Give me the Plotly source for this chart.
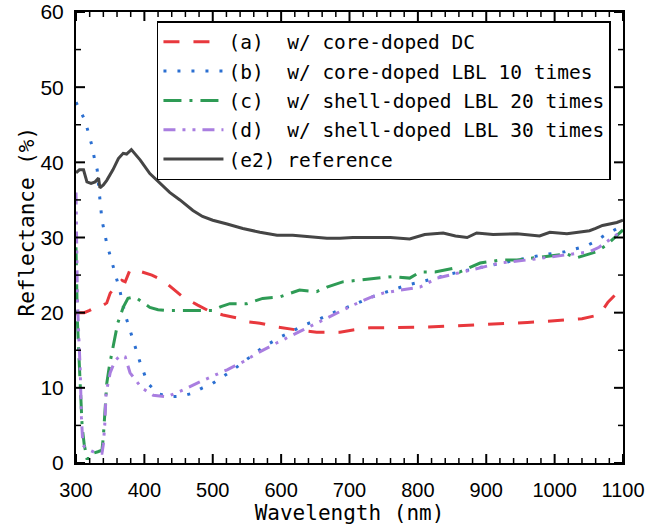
import plotly.graph_objects as go

# ---- data ----
x_a = [300, 305, 312, 320, 330, 340, 345, 350, 358, 367, 372, 379, 390, 400, 411, 427, 440, 456, 478, 495,
       515, 535, 550, 569, 594, 623, 652, 686, 705, 730, 759, 790, 815, 845, 872, 900, 930, 960, 983, 1010,
       1040, 1060, 1070, 1078, 1091, 1100]
y_a = [19.8, 20.0, 20.0, 20.3, 20.8, 21.0, 21.3, 22.6, 23.5, 24.3, 24.1, 25.7, 25.6, 25.3, 25.0, 24.3, 23.3, 22.1, 21.0, 20.2,
       19.7, 19.3, 18.8, 18.6, 18.1, 17.7, 17.4, 17.4, 17.7, 18.0, 18.0, 18.0, 18.1, 18.2, 18.3, 18.4, 18.5, 18.7, 18.8, 19.0,
       19.2, 19.6, 20.3, 21.4, 22.6, 23.2]

x_b = [300, 307, 313, 318, 323, 327, 331, 334, 338, 345, 354, 364, 372, 383, 394, 405, 420, 437, 455, 471,
       485, 500, 515, 530, 550, 575, 600, 617, 635, 652, 670, 686, 705, 730, 749, 768, 785, 805, 822, 850,
       880, 915, 950, 983, 1015, 1047, 1060, 1073, 1085, 1100]
y_b = [48.0, 46.8, 45.6, 44.0, 42.3, 40.5, 39.0, 36.0, 32.3, 29.2, 26.1, 23.0, 19.7, 16.4, 13.3, 10.6, 9.2, 8.8, 8.9, 9.3,
       10.0, 10.6, 11.5, 12.4, 13.8, 15.5, 16.8, 17.6, 18.4, 19.0, 19.8, 20.4, 21.0, 22.0, 22.6, 23.2, 23.7, 24.1, 24.5, 25.2,
       25.8, 26.5, 27.1, 27.7, 28.1, 28.9, 29.5, 30.3, 30.9, 31.6]

x_c = [300, 301, 302, 305, 307, 309, 312, 316, 320, 325, 332, 338, 340, 342, 345, 349, 353, 357, 361, 369,
       376, 386, 395, 408, 420, 433, 452, 477, 500, 512, 525, 550, 573, 598, 627, 652, 667, 690, 711, 740,
       763, 788, 803, 825, 851, 861, 891, 920, 945, 970, 993, 1018, 1032, 1061, 1076, 1090, 1100]
y_c = [28.7, 24.0, 19.0, 12.8, 8.4, 4.8, 2.5, 0.6, 0.6, 1.3, 1.5, 1.7, 3.5, 6.1, 10.6, 13.0, 15.0, 17.0, 18.6, 20.7,
       21.9, 22.1, 21.5, 20.7, 20.4, 20.3, 20.3, 20.3, 20.3, 20.8, 21.2, 21.2, 21.9, 22.1, 23.0, 22.8, 23.4, 24.1, 24.3, 24.6,
       24.8, 24.6, 25.4, 25.4, 25.9, 25.4, 26.6, 27.0, 27.0, 27.3, 27.5, 27.8, 27.3, 28.1, 29.0, 30.2, 31.0]

x_d = [300, 301, 302, 304, 306, 308, 310, 312, 318, 325, 331, 338, 340, 342, 344, 350, 357, 365, 372, 379,
       387, 396, 413, 433, 456, 486, 521, 545, 565, 594, 632, 667, 705, 730, 749, 774, 803, 828, 850, 876,
       920, 968, 1018, 1051, 1065, 1076, 1090, 1100]
y_d = [36.0, 30.0, 22.0, 17.0, 12.8, 6.0, 2.4, 2.2, 1.8, 1.5, 1.3, 1.3, 2.5, 5.0, 9.3, 12.0, 13.6, 14.3, 14.1, 12.0,
       11.0, 10.0, 9.0, 8.8, 9.7, 11.0, 12.4, 13.5, 14.6, 16.0, 17.7, 19.3, 21.0, 22.0, 22.6, 23.0, 23.4, 24.6, 25.1, 25.7,
       26.6, 27.1, 27.7, 28.1, 28.7, 29.4, 30.3, 31.0]

x_e = [300, 305, 311, 316, 322, 328, 333, 335, 340, 345, 354, 362, 369, 374, 381, 387, 394, 408, 423, 437,
       452, 471, 485, 500, 521, 544, 569, 594, 617, 642, 667, 686, 705, 730, 760, 788, 810, 837, 855, 872,
       886, 910, 945, 978, 993, 1018, 1040, 1051, 1060, 1070, 1091, 1100]
y_e = [38.6, 39.0, 39.0, 37.4, 37.2, 37.4, 37.9, 36.6, 37.0, 37.6, 39.0, 40.5, 41.2, 41.1, 41.7, 41.0, 40.3, 38.5, 37.2, 36.0,
       35.0, 33.6, 32.8, 32.3, 31.8, 31.2, 30.7, 30.3, 30.3, 30.1, 29.9, 29.9, 30.0, 30.0, 30.0, 29.8, 30.4, 30.6, 30.2, 30.0,
       30.6, 30.4, 30.5, 30.2, 30.7, 30.5, 30.7, 30.9, 31.2, 31.6, 32.0, 32.3]

NB = "\u00a0"
names = [
    "(a)" + NB * 2 + "w/ core-doped DC",
    "(b)" + NB * 2 + "w/ core-doped LBL 10 times",
    "(c)" + NB * 2 + "w/ shell-doped LBL 20 times",
    "(d)" + NB * 2 + "w/ shell-doped LBL 30 times",
    "(e2) reference",
]
x_ticks = [300, 400, 500, 600, 700, 800, 900, 1000, 1100]
y_ticks = [0, 10, 20, 30, 40, 50, 60]
x_minor_step = 20
y_minor_step = 5

TXT_FONT = "DejaVu Sans Mono"
TICK_FONT = "Liberation Sans"

W, H = 661, 529
M = dict(l=76, r=38, t=12, b=66)

series = [
    (x_a, y_a, "#e8383d", "16px,14px"),
    (x_b, y_b, "#2b6fd1", "3px,11px"),
    (x_c, y_c, "#2e9b55", "18px,8px,3px,8px"),
    (x_d, y_d, "#a97ee0", "12px,7px,3px,7px,3px,7px"),
    (x_e, y_e, "#454545", "solid"),
]

fig = go.Figure()
for i, (xs, ys, col, dash) in enumerate(series):
    fig.add_trace(go.Scatter(x=xs, y=ys, mode="lines", name=names[i], legendgroup=str(i),
                             line=dict(color=col, width=3, dash=dash)))

x_range = [x_ticks[0], x_ticks[-1]]
y_range = [y_ticks[0], y_ticks[-1]]

# ---- inward tick marks on all four sides, drawn as thin line traces ----
plot_w = W - M["l"] - M["r"]
plot_h = H - M["t"] - M["b"]
ux = (x_range[1] - x_range[0]) / plot_w   # data units per pixel
uy = (y_range[1] - y_range[0]) / plot_h
x_minor = [v for v in range(x_ticks[0], x_ticks[-1] + 1, x_minor_step) if v not in x_ticks]
y_minor = [v for v in range(y_ticks[0], y_ticks[-1] + 1, y_minor_step) if v not in y_ticks]


def tick_segments(xv, yv, length):
    tx, ty = [], []
    for v in xv:
        tx += [v, v, None, v, v, None]
        ty += [y_range[0], y_range[0] + length * uy, None, y_range[1], y_range[1] - length * uy, None]
    for v in yv:
        tx += [x_range[0], x_range[0] + length * ux, None, x_range[1], x_range[1] - length * ux, None]
        ty += [v, v, None, v, v, None]
    return tx, ty


for xv, yv, ln, lw in ((x_ticks, y_ticks, 9, 2), (x_minor, y_minor, 5, 1.5)):
    tx, ty = tick_segments(xv, yv, ln)
    fig.add_trace(go.Scatter(x=tx, y=ty, mode="lines", line=dict(color="black", width=lw),
                             showlegend=False, hoverinfo="skip", cliponaxis=False))

common = dict(showgrid=False, zeroline=False, automargin=False, showline=True, mirror=True,
              linecolor="black", linewidth=2, ticks="")

fig.update_layout(
    xaxis=dict(range=x_range, tickmode="array", tickvals=x_ticks, ticktext=[str(v) for v in x_ticks],
               ticklabelstandoff=8, tickfont=dict(family=TICK_FONT, size=20, color="black"),
               title=dict(text="Wavelength (nm)", font=dict(family=TXT_FONT, size=21, color="black"),
                          standoff=4), **common),
    yaxis=dict(range=y_range, tickmode="array", tickvals=y_ticks, ticktext=[str(v) for v in y_ticks],
               ticklabelstandoff=6, tickfont=dict(family=TICK_FONT, size=21, color="black"), **common),
)

fig.add_annotation(text="Reflectance (%)", xref="paper", yref="paper", x=-0.09, y=0.535,
                   xanchor="center", yanchor="middle", textangle=-90, showarrow=False,
                   font=dict(family=TXT_FONT, size=21, color="black"))

fig.update_layout(
    width=W, height=H,
    margin=M,
    plot_bgcolor="white", paper_bgcolor="white",
    font=dict(family=TXT_FONT, color="black"),
    legend=dict(x=0.148, y=0.98, xanchor="left", yanchor="top",
                bgcolor="white", bordercolor="black", borderwidth=1.5,
                font=dict(family=TXT_FONT, size=19.5, color="black"),
                tracegroupgap=1, traceorder="grouped", itemwidth=60),
)

fig.write_html("out.html")
